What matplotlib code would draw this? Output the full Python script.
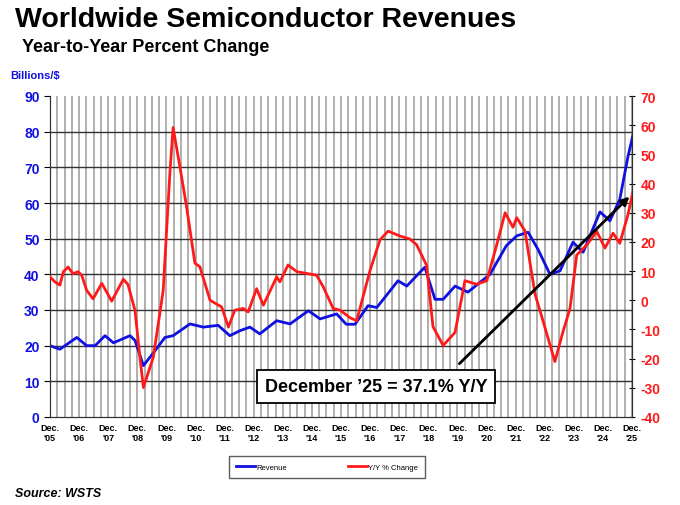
import matplotlib
matplotlib.use("Agg")
import matplotlib.pyplot as plt
import numpy as np
from matplotlib.lines import Line2D

plt.rcParams['font.family'] = ['Liberation Sans', 'DejaVu Sans']

rev_t = [2005.92, 2006.26, 2006.84, 2007.18, 2007.47, 2007.81, 2008.1, 2008.67, 2008.84, 2009.13,
         2009.53, 2009.87, 2010.15, 2010.73, 2011.19, 2011.7, 2012.1, 2012.45, 2012.79, 2013.13,
         2013.71, 2014.17, 2014.8, 2015.2, 2015.77, 2016.1, 2016.4, 2016.85, 2017.15, 2017.88,
         2018.18, 2018.8, 2019.15, 2019.43, 2019.84, 2020.28, 2021.04, 2021.6, 2021.96, 2022.35,
         2022.69, 2023.1, 2023.45, 2023.89, 2024.24, 2024.82, 2025.16, 2025.5, 2025.78, 2025.95]
rev_v = [20, 19, 22.3, 20, 20, 22.8, 20.8, 22.8, 21.5, 14.4,
         18.6, 22.3, 22.8, 26.1, 25.2, 25.7, 22.8, 24.2, 25.2, 23.3,
         27, 26.1, 29.8, 27.5, 28.9, 26, 26, 31.2, 30.7, 38.2,
         36.7, 42, 33, 33, 36.7, 35, 40, 48, 50.8, 51.8,
         47, 40, 41, 49, 46.2, 57.5, 55, 61, 73, 78.9]

yoy_t = [2005.92, 2006.09, 2006.26, 2006.38, 2006.54, 2006.71, 2006.88, 2007.01, 2007.18, 2007.4,
         2007.7, 2008.04, 2008.44, 2008.6, 2008.84, 2009.01, 2009.13, 2009.47, 2009.81, 2010.04,
         2010.15, 2010.38, 2010.61, 2010.9, 2011.07, 2011.42, 2011.82, 2012.05, 2012.27, 2012.56,
         2012.73, 2013.02, 2013.25, 2013.71, 2013.82, 2014.1, 2014.4, 2014.74, 2015.08, 2015.31,
         2015.65, 2015.89, 2016.23, 2016.46, 2016.92, 2017.26, 2017.54, 2017.95, 2018.29, 2018.52,
         2018.86, 2019.08, 2019.43, 2019.84, 2020.18, 2020.58, 2020.93, 2021.27, 2021.56, 2021.83,
         2021.96, 2022.24, 2022.59, 2022.86, 2023.27, 2023.55, 2023.79, 2024.02, 2024.37, 2024.71,
         2024.99, 2025.27, 2025.5, 2025.78, 2025.95]
yoy_v = [8, 6.3, 5.2, 9.8, 11.4, 9.1, 9.8, 8.6, 3.4, 0.5,
         5.8, -0.3, 7.2, 5.4, -3.4, -19.5, -29.9, -19.5, 3.4, 43.7,
         59.2, 46, 32.2, 12.7, 11.5, 0, -2.3, -9.2, -3.4, -2.8,
         -4, 4, -1.7, 8, 6.3, 12.1, 9.8, 9.2, 8.6, 4.6,
         -2.8, -3.4, -6, -7, 10.3, 20.7, 23.7, 22, 21, 19,
         12, -9, -15.5, -11, 6.7, 5.5, 6.7, 19, 30, 25,
         28.3, 23.8, 2, -7, -21, -10.7, -2.8, 15.5, 19, 23.6,
         17.9, 23, 19.5, 29.3, 37.1]

years = list(range(2005, 2026))
xlabels = ["Dec.\n'%02d" % (y % 100) for y in years]

fig = plt.figure(figsize=(6.8, 5.06), dpi=100)
ax = fig.add_axes([50/680, 1-418/506, 582/680, 321/506])
ax2 = ax.twinx()

x0, x1 = 2005.92, 2025.92
ax.set_xlim(x0, x1)
ax.set_ylim(0, 90)
ax2.set_ylim(-40, 70)

for q in np.arange(x0, x1 + 0.01, 0.25):
    ax.axvline(q, color='#9a9a9a', lw=1.1, zorder=0)
for h in range(10, 90, 10):
    ax.axhline(h, color='#333333', lw=1.0, zorder=0)

# Right-axis series mapped via the secondary axis transform, drawn on the main axes
ax2.plot(yoy_t, yoy_v, color='#ff1a1a', lw=2.0, zorder=3)
ax.plot(rev_t, rev_v, color='#1010e0', lw=2.0, zorder=4)
ax2.patch.set_visible(False)
ax.set_zorder(1)
ax2.set_zorder(2)
ax.patch.set_facecolor('white')

ax2.annotate('', xy=(2025.9, 36.2), xytext=(2019.92, -22.4),
             arrowprops=dict(arrowstyle='-|>', color='black', lw=2, mutation_scale=12), zorder=5)

ax.set_xticks([x0 + i for i in range(21)])
ax.set_xticklabels(xlabels, fontsize=6.5, fontweight='bold')
ax.set_yticks(range(0, 91, 10))
ax.set_yticklabels([str(v) for v in range(0, 91, 10)], color='#1010e0', fontsize=10, fontweight='bold')
ax2.set_yticks(range(-40, 71, 10))
ax2.set_yticklabels([str(v) for v in range(-40, 71, 10)], color='#ff1a1a', fontsize=10, fontweight='bold')
ax.tick_params(axis='x', length=0, pad=4)
ax.tick_params(axis='y', length=4, direction='out')
ax2.tick_params(axis='y', length=4, direction='inout', pad=4)
for a in (ax, ax2):
    a.spines['top'].set_visible(False)
    for s in ('left', 'right', 'bottom'):
        a.spines[s].set_color('#333333')

ax2.text(0.56, 0.095, "December \u201925 = 37.1% Y/Y", transform=ax.transAxes, ha='center', va='center',
         fontsize=13, fontweight='bold', zorder=6,
         bbox=dict(boxstyle='square,pad=0.45', fc='white', ec='black', lw=1.3))

fig.text(15/680, 1-20/506, "Worldwide Semiconductor Revenues", fontsize=20.5, fontweight='bold', va='center')
fig.text(22/680, 1-47/506, "Year-to-Year Percent Change", fontsize=13, fontweight='bold', va='center')
fig.text(10/680, 1-76/506, "Billions/$", fontsize=8, fontweight='bold', color='#1010e0', va='center')
fig.text(15/680, 1-494/506, "Source: WSTS", fontsize=9, fontweight='bold', style='italic', va='center')

handles = [Line2D([], [], color='#1010e0', lw=2), Line2D([], [], color='#ff1a1a', lw=2)]
leg = fig.legend(handles, ['Revenue', 'Y/Y % Change'], loc='center', bbox_to_anchor=(327/680, 1-468/506),
                 ncol=2, fontsize=5.5, frameon=True, fancybox=False, handlelength=2.5, handletextpad=0.1,
                 columnspacing=8, borderpad=1.0)
leg.get_frame().set_edgecolor('#333333')
leg.get_frame().set_linewidth(1)

fig.savefig('out.png', dpi=100)
